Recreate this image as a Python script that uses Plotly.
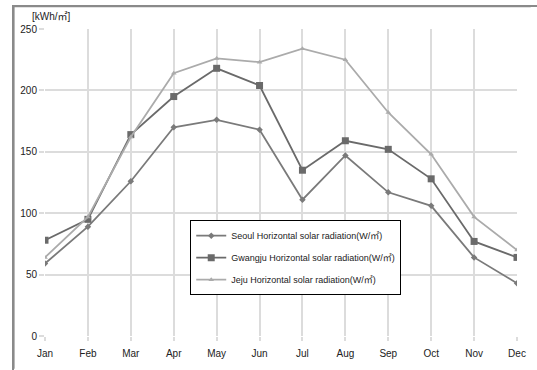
import plotly.graph_objects as go

months = ["Jan", "Feb", "Mar", "Apr", "May", "Jun", "Jul", "Aug", "Sep", "Oct", "Nov", "Dec"]
seoul = [59, 89, 126, 170, 176, 168, 111, 147, 117, 106, 64, 43]
gwangju = [78, 95, 164, 195, 218, 204, 135, 159, 152, 128, 77, 64]
jeju = [64, 97, 162, 214, 226, 223, 234, 225, 182, 148, 97, 70]
y_ticks = [0, 50, 100, 150, 200, 250]

names = [
    "Seoul Horizontal solar radiation(W/㎡)",
    "Gwangju Horizontal solar radiation(W/㎡)",
    "Jeju Horizontal solar radiation(W/㎡)",
]
series = [seoul, gwangju, jeju]
colors = ["#7a7a7a", "#6a6a6a", "#ababab"]
symbols = ["diamond", "square", "triangle-up"]
msizes = [5, 7, 5]

FONT = "Liberation Sans, Arial, Noto Sans CJK KR, sans-serif"
x = list(range(len(months)))

fig = go.Figure()
for i, (nm, s) in enumerate(zip(names, series)):
    fig.add_trace(go.Scatter(
        x=x, y=s, name=nm, mode="lines+markers",
        line=dict(color=colors[i], width=1.8),
        marker=dict(color=colors[i], symbol=symbols[i], size=msizes[i]),
        legendgroup=f"g{i}",
    ))

PL, PW, PB, PH = 45, 481, 339, 310
fx0 = (13 - PL) / PW
fy1 = (PB - 6) / PH
fx1 = (540 - PL) / PW
fy0 = (PB - 372) / PH

fig.update_layout(
    width=537, height=370,
    margin=dict(l=45, r=11, t=29, b=31),
    paper_bgcolor="white", plot_bgcolor="white",
    font=dict(family=FONT, size=10, color="#222"),
    showlegend=True,
    legend=dict(
        x=(193 - 45) / 481, y=(339 - 222) / 310, xanchor="left", yanchor="top",
        bordercolor="black", borderwidth=1, bgcolor="white",
        font=dict(size=9, color="#222"),
        tracegroupgap=3, traceorder="grouped",
        itemwidth=30,
    ),
    xaxis=dict(
        tickvals=x, ticktext=months, range=[0, 11],
        showgrid=True, gridcolor="#dcdcdc", gridwidth=1.5,
        zeroline=False, showline=False,
        ticks="outside", ticklen=4, tickcolor="#dcdcdc", tickwidth=1.5,
        ticklabelstandoff=4,
        tickfont=dict(size=10, color="#222"),
    ),
    yaxis=dict(
        tickvals=y_ticks, range=[0, 250],
        showgrid=True, gridcolor="#dcdcdc", gridwidth=1.5,
        zeroline=False, showline=False,
        ticks="outside", ticklen=5, tickcolor="#dcdcdc", tickwidth=1.5,
        tickfont=dict(size=10, color="#222"),
    ),
    annotations=[dict(
        text="[kWh/㎡]", xref="paper", yref="paper",
        x=(30 - 45) / 481, y=(339 - 16) / 310, xanchor="left", yanchor="middle",
        showarrow=False, font=dict(size=10, color="#222"),
    )],
    shapes=[
        dict(type="line", xref="paper", yref="paper",
             x0=fx0, x1=fx1, y0=fy1, y1=fy1,
             line=dict(color="#8a8a8a", width=2), layer="above"),
        dict(type="line", xref="paper", yref="paper",
             x0=fx0, x1=fx0, y0=fy0, y1=fy1,
             line=dict(color="#8a8a8a", width=2), layer="above"),
    ],
)

post = (
    "document.documentElement.style.margin='0';"
    "document.body.style.margin='0';document.body.style.padding='0';"
    "var f=document.createElement('div');"
    "f.style.cssText='position:fixed;left:12px;top:5px;width:700px;height:500px;"
    "border-left:2px solid #8a8a8a;border-top:2px solid #8a8a8a;pointer-events:none;z-index:10;';"
    "document.body.appendChild(f);"
)

fig.write_html(
    "out.html",
    config={"displayModeBar": False},
    post_script=post,
)
